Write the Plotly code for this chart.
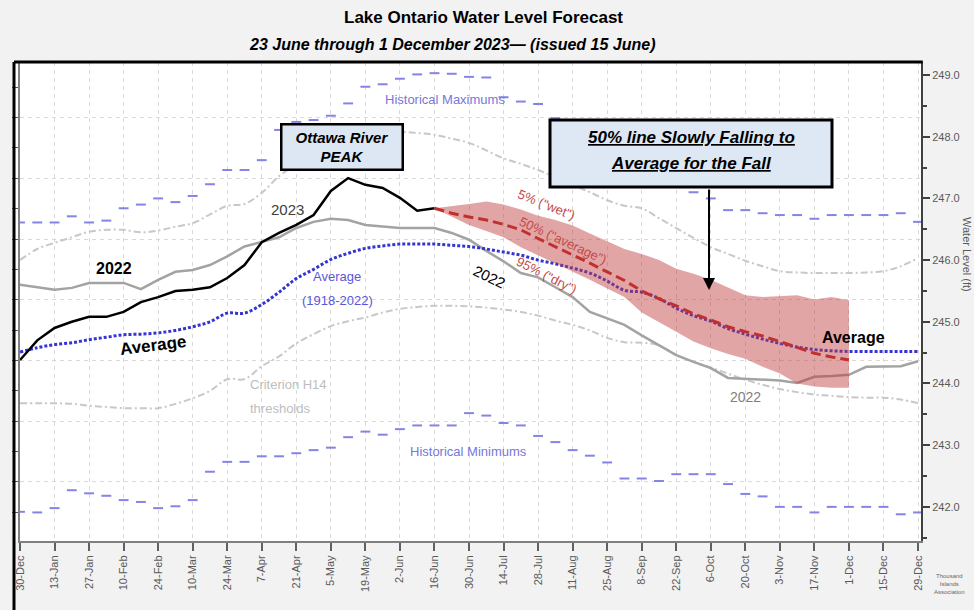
import plotly.graph_objects as go
import pandas as pd

# ---------------- data (water level, feet) ----------------
START = "2022-12-30"
weeks = pd.date_range(START, periods=53, freq="7D")   # weekly dates 30-Dec .. 29-Dec

avg_1918_2022 = [244.51, 244.58, 244.63, 244.66, 244.71, 244.75, 244.79, 244.80, 244.82, 244.86,
                 244.92, 245.00, 245.14, 245.14, 245.28, 245.48, 245.70, 245.85, 246.01, 246.11,
                 246.19, 246.23, 246.26, 246.26, 246.26, 246.24, 246.22, 246.18, 246.13, 246.08,
                 246.00, 245.94, 245.87, 245.79, 245.66, 245.51, 245.48, 245.38, 245.22, 245.10,
                 245.01, 244.89, 244.80, 244.72, 244.65, 244.59, 244.55, 244.53, 244.52, 244.52,
                 244.52, 244.52, 244.52]

level_2022 = [245.60, 245.56, 245.52, 245.55, 245.63, 245.63, 245.63, 245.53, 245.68, 245.81,
              245.84, 245.92, 246.06, 246.22, 246.29, 246.37, 246.52, 246.62, 246.67, 246.65,
              246.57, 246.54, 246.52, 246.52, 246.52, 246.44, 246.33, 246.15, 245.98, 245.79,
              245.72, 245.56, 245.40, 245.16, 245.05, 244.95, 244.78, 244.62, 244.46, 244.35,
              244.25, 244.09, 244.08, 244.07, 244.05, 244.01, 244.11, 244.12, 244.14, 244.27,
              244.28, 244.28, 244.36]

level_2023 = [244.38, 244.70, 244.90, 245.00, 245.08, 245.08, 245.16, 245.32, 245.40, 245.50,
              245.52, 245.56, 245.71, 245.92, 246.29, 246.44, 246.57, 246.73, 247.12, 247.33,
              247.22, 247.17, 247.01, 246.80, 246.84]

forecast_05 = [246.84, 246.87, 246.91, 246.95, 246.90, 246.82, 246.72, 246.65, 246.56, 246.43,
               246.31, 246.18, 246.10, 246.00, 245.86, 245.78, 245.68, 245.55, 245.43, 245.40,
               245.41, 245.43, 245.36, 245.40, 245.35]
forecast_50 = [246.84, 246.76, 246.70, 246.65, 246.58, 246.49, 246.35, 246.22, 246.08, 245.95,
               245.81, 245.67, 245.50, 245.37, 245.26, 245.13, 245.03, 244.92, 244.84, 244.77,
               244.68, 244.59, 244.49, 244.43, 244.38]
forecast_95 = [246.84, 246.70, 246.57, 246.47, 246.37, 246.21, 246.08, 245.95, 245.82, 245.68,
               245.54, 245.40, 245.15, 245.00, 244.84, 244.68, 244.57, 244.48, 244.40, 244.27,
               244.16, 244.00, 243.95, 243.93, 243.93]

h14_upper = [246.00, 246.18, 246.28, 246.37, 246.46, 246.49, 246.49, 246.45, 246.48, 246.54,
             246.60, 246.74, 246.88, 246.91, 247.09, 247.36, 247.55, 247.70, 247.82, 247.92,
             248.00, 248.05, 248.08, 248.06, 248.03, 247.97, 247.90, 247.78, 247.65, 247.56,
             247.46, 247.34, 247.22, 247.10, 246.97, 246.88, 246.84, 246.68, 246.52, 246.36,
             246.21, 246.10, 245.99, 245.90, 245.82, 245.80, 245.79, 245.79, 245.79, 245.80,
             245.82, 245.90, 246.03]
h14_lower = [243.68, 243.68, 243.68, 243.67, 243.64, 243.62, 243.60, 243.60, 243.60, 243.67,
             243.76, 243.88, 244.07, 244.07, 244.28, 244.44, 244.65, 244.80, 244.93, 245.01,
             245.07, 245.15, 245.21, 245.24, 245.26, 245.26, 245.25, 245.23, 245.20, 245.16,
             245.10, 245.02, 244.95, 244.86, 244.74, 244.67, 244.66, 244.62, 244.46, 244.35,
             244.26, 244.16, 244.06, 243.98, 243.91, 243.86, 243.82, 243.80, 243.78, 243.77,
             243.77, 243.74, 243.68]

hist_max = [246.61, 246.61, 246.61, 246.71, 246.61, 246.64, 246.84, 246.90, 247.00, 246.94,
            247.04, 247.23, 247.46, 247.46, 247.62, 248.11, 248.24, 248.27, 248.34, 248.54,
            248.81, 248.85, 248.94, 249.01, 249.03, 249.02, 248.97, 248.96, 248.64, 248.57,
            248.53, 248.30, 248.19, 248.03, 247.87, 247.70, 247.54, 247.38, 247.22, 247.10,
            247.00, 246.81, 246.81, 246.76, 246.73, 246.73, 246.67, 246.73, 246.73, 246.73,
            246.73, 246.76, 246.62]
hist_min = [241.92, 241.91, 241.98, 242.27, 242.22, 242.18, 242.11, 242.08, 241.98, 242.01,
            242.11, 242.57, 242.73, 242.73, 242.82, 242.82, 242.87, 242.92, 242.96, 243.13,
            243.22, 243.17, 243.26, 243.32, 243.32, 243.32, 243.52, 243.48, 243.36, 243.32,
            243.15, 243.05, 242.92, 242.83, 242.72, 242.46, 242.46, 242.42, 242.53, 242.53,
            242.53, 242.37, 242.21, 242.17, 242.00, 242.00, 241.91, 242.00, 242.00, 242.00,
            242.00, 241.88, 241.91]

FT_RANGE = [241.447, 249.211]
FT_TO_M = 0.3048

dates_2023 = weeks[:25]
dates_fc = weeks[24:49]

# ---------------- figure ----------------
W, H = 974, 610
L, R, T, B = 20, 921, 62, 541


def P(x, y):
    return (x - L) / (R - L), (B - y) / (B - T)


fig = go.Figure()

# invisible trace to hold the left (metric) axis
fig.add_trace(go.Scatter(x=[weeks[0]], y=[74.5], yaxis="y2", mode="lines",
                         line=dict(width=0), hoverinfo="skip", showlegend=False))

h14_style = dict(color="#c8c8c8", width=2, dash="7px,3px,2px,3px")
fig.add_trace(go.Scatter(x=weeks, y=h14_upper, mode="lines", line=h14_style,
                         line_shape="spline", showlegend=False))
fig.add_trace(go.Scatter(x=weeks, y=h14_lower, mode="lines", line=h14_style,
                         line_shape="spline", showlegend=False))


def dashes(values):
    xs, ys = [], []
    for d, v in zip(weeks, values):
        xs += [d - pd.Timedelta(days=2), d + pd.Timedelta(days=2), None]
        ys += [v, v, None]
    return xs, ys


for series in (hist_max, hist_min):
    hx, hy = dashes(series)
    fig.add_trace(go.Scatter(x=hx, y=hy, mode="lines",
                             line=dict(color="#8484e4", width=2), showlegend=False))

fig.add_trace(go.Scatter(x=weeks, y=level_2022, mode="lines",
                         line=dict(color="#a3a3a3", width=2.5), showlegend=False))
fig.add_trace(go.Scatter(x=weeks, y=avg_1918_2022, mode="lines", line_shape="spline",
                         line=dict(color="#3434d2", width=3, dash="3px,2px"), showlegend=False))

fig.add_trace(go.Scatter(x=dates_fc, y=forecast_95, mode="lines",
                         line=dict(width=0, color="rgba(0,0,0,0)"), showlegend=False))
fig.add_trace(go.Scatter(x=dates_fc, y=forecast_05, mode="lines", fill="tonexty",
                         fillcolor="rgba(192,58,58,0.46)",
                         line=dict(width=0, color="rgba(0,0,0,0)"), showlegend=False))

fig.add_trace(go.Scatter(x=dates_2023, y=level_2023, mode="lines",
                         line=dict(color="#000000", width=2.5), showlegend=False))
fig.add_trace(go.Scatter(x=dates_fc, y=forecast_50, mode="lines",
                         line=dict(color="#c0302e", width=3, dash="10px,5px"), showlegend=False))

# label clipped at the top edge of the plot
fig.add_trace(go.Scatter(x=[pd.Timestamp("2023-06-30")], y=[249.25], mode="text",
                         text=["Historical Maximums"], cliponaxis=True,
                         textfont=dict(color="#7777da", size=13, family="Liberation Sans"),
                         showlegend=False, hoverinfo="skip"))

ann = []


def label(text, x, y, size=13, color="#000", angle=0, xanchor="center", family="Liberation Sans"):
    px_, py_ = P(x, y)
    ann.append(dict(text=text, x=px_, y=py_, xref="paper", yref="paper", showarrow=False,
                    xanchor=xanchor, yanchor="middle", textangle=angle,
                    font=dict(size=size, color=color, family=family)))


label("<b>Lake Ontario Water Level Forecast</b>", 483, 17, 17, "#000")
label("<b><i>23 June through 1 December 2023— (issued 15 June)</i></b>", 452, 44, 16, "#000")

label("<b>2022</b>", 114, 268, 16, "#000")
label("<b>Average</b>", 153, 346, 17, "#000", angle=-7)
label("2023", 287, 209, 15, "#404040")
label("Average", 337, 276, 13, "#5858d6")
label("(1918-2022)", 337, 300, 13, "#5858d6")
label("2022", 489, 276, 15, "#000", angle=26)
label('5% ("wet")', 546, 205, 13, "#c24b49", angle=22)
label('50% ("average")', 563, 240, 13, "#c24b49", angle=25)
label('95% ("dry")', 547, 275, 13, "#c24b49", angle=27)
label("<b>Average</b>", 853, 337, 16, "#000")
label("2022", 745, 397, 14, "#7f7f7f")
label("Criterion H14", 248, 384, 13, "#bdbdbd", xanchor="left")
label("thresholds", 248, 408, 13, "#bdbdbd", xanchor="left")
label("Historical Maximums", 445, 99, 13, "#7777da")
label("Historical Minimums", 468, 452, 13, "#7777da")
label("Water Level (ft)", 967, 255, 11, "#595959", angle=90)

# Ottawa River PEAK box
bx, by = P(341.5, 146.5)
ann.append(dict(text="<b><i>Ottawa River<br>PEAK</i></b>", x=bx, y=by, xref="paper", yref="paper",
                showarrow=False, xanchor="center", yanchor="middle", width=117, height=41,
                bgcolor="#dce7f3", bordercolor="#000", borderwidth=2.5, borderpad=1,
                font=dict(size=15, color="#000", family="Liberation Sans")))

# 50% line box (shape) with two underlined lines
x0, y0 = P(550, 187)
x1, y1 = P(832, 120)
shapes = [dict(type="rect", xref="paper", yref="paper", x0=x0, x1=x1, y0=y0, y1=y1,
               fillcolor="#dde8f4", line=dict(color="#000", width=3), layer="above")]
label("<b><i><u>50% line Slowly Falling to</u></i></b>", 691, 137, 17, "#000")
label("<b><i><u>Average for the Fall</u></i></b>", 691, 163, 17, "#000")

# arrow
ax_, ay_ = P(709, 290)
ann.append(dict(text="", x=ax_, y=ay_, xref="paper", yref="paper", showarrow=True,
                ax=0, ay=-102, arrowhead=2, arrowsize=1.2, arrowwidth=2, arrowcolor="#000",
                standoff=0))

# small logo text
label("Thousand<br>Islands<br>Association", 950, 584, 6, "#666")

# frame lines / white strip
fx0, _ = P(14, 0)
_, fyb = P(0, 610)
shapes += [
    dict(type="rect", xref="paper", yref="paper", x0=fx0, x1=0, y0=0, y1=1,
         fillcolor="#ffffff", line=dict(width=0), layer="below"),
    dict(type="line", xref="paper", yref="paper", x0=fx0, x1=1.002, y0=1.0, y1=1.0,
         line=dict(color="#000", width=3)),
    dict(type="line", xref="paper", yref="paper", x0=fx0, x1=fx0, y0=fyb, y1=1.0,
         line=dict(color="#000", width=3)),
]

fig.update_layout(
    width=W, height=H,
    margin=dict(l=L, r=W - R, t=T, b=H - B, pad=0, autoexpand=False),
    paper_bgcolor="#f2f2f2", plot_bgcolor="#ffffff",
    showlegend=False,
    annotations=ann, shapes=shapes,
    font=dict(family="Liberation Sans", color="#595959"),
    xaxis=dict(type="date", range=["2022-12-30", "2023-12-30 05:00"], automargin=False,
               tick0="2022-12-30", dtick=14 * 86400000, tickformat="%-d-%b",
               tickangle=-90, ticks="outside", ticklen=8, tickwidth=1.5, tickcolor="#606060",
               tickfont=dict(size=11, color="#595959"),
               showgrid=True, gridcolor="#d9d9d9", griddash="4px,4px", gridwidth=1,
               showline=True, linecolor="#808080", linewidth=2, zeroline=False),
    yaxis=dict(side="right", range=FT_RANGE, tick0=0, dtick=1, tickformat=".1f",
               automargin=False,
               ticks="outside", ticklen=7, tickwidth=1.5, tickcolor="#404040",
               minor=dict(dtick=0.5, tick0=0, ticks="outside", ticklen=4, tickcolor="#404040",
                          showgrid=False),
               tickfont=dict(size=11, color="#595959"), showgrid=False,
               showline=True, linecolor="#404040", linewidth=2, zeroline=False),
    yaxis2=dict(overlaying="y", side="left", automargin=False,
                range=[FT_RANGE[0] * FT_TO_M, FT_RANGE[1] * FT_TO_M],
                tick0=73.885, dtick=0.3, ticks="outside", ticklen=6, tickcolor="#555",
                showticklabels=False, showgrid=True, gridcolor="#d9d9d9", griddash="4px,4px",
                minor=dict(tick0=73.885, dtick=0.15, ticks="outside", ticklen=6,
                           tickcolor="#555", showgrid=False),
                showline=True, linecolor="#808080", linewidth=2, zeroline=False),
)

fig.write_html("out.html", config={"displayModeBar": False},
               post_script="document.body.style.margin='0px';document.body.style.overflow='hidden';")
